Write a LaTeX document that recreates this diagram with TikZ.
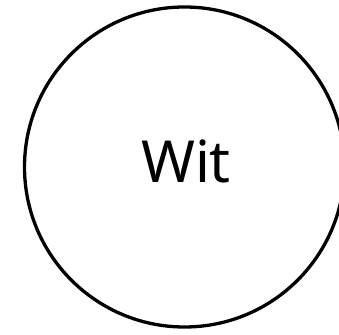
\documentclass[tikz,border=0pt]{standalone}
\usepackage{fontspec}
\setmainfont{Noto Sans}
\begin{document}
\begin{tikzpicture}[x=1pt,y=1pt,
  ring/.style={circle,draw=black,line width=3.3pt,minimum size=320pt,inner sep=0pt},
  lbl/.style={font=\fontsize{58}{60}\selectfont,inner sep=0pt,anchor=base}]
\useasboundingbox (0,0) rectangle (339,334);
\clip (0,0) rectangle (339,334);
\node[ring] (c) at (184.5,167) {};
\node[lbl] (t) at (186,151) {Wit};
\end{tikzpicture}
\end{document}
